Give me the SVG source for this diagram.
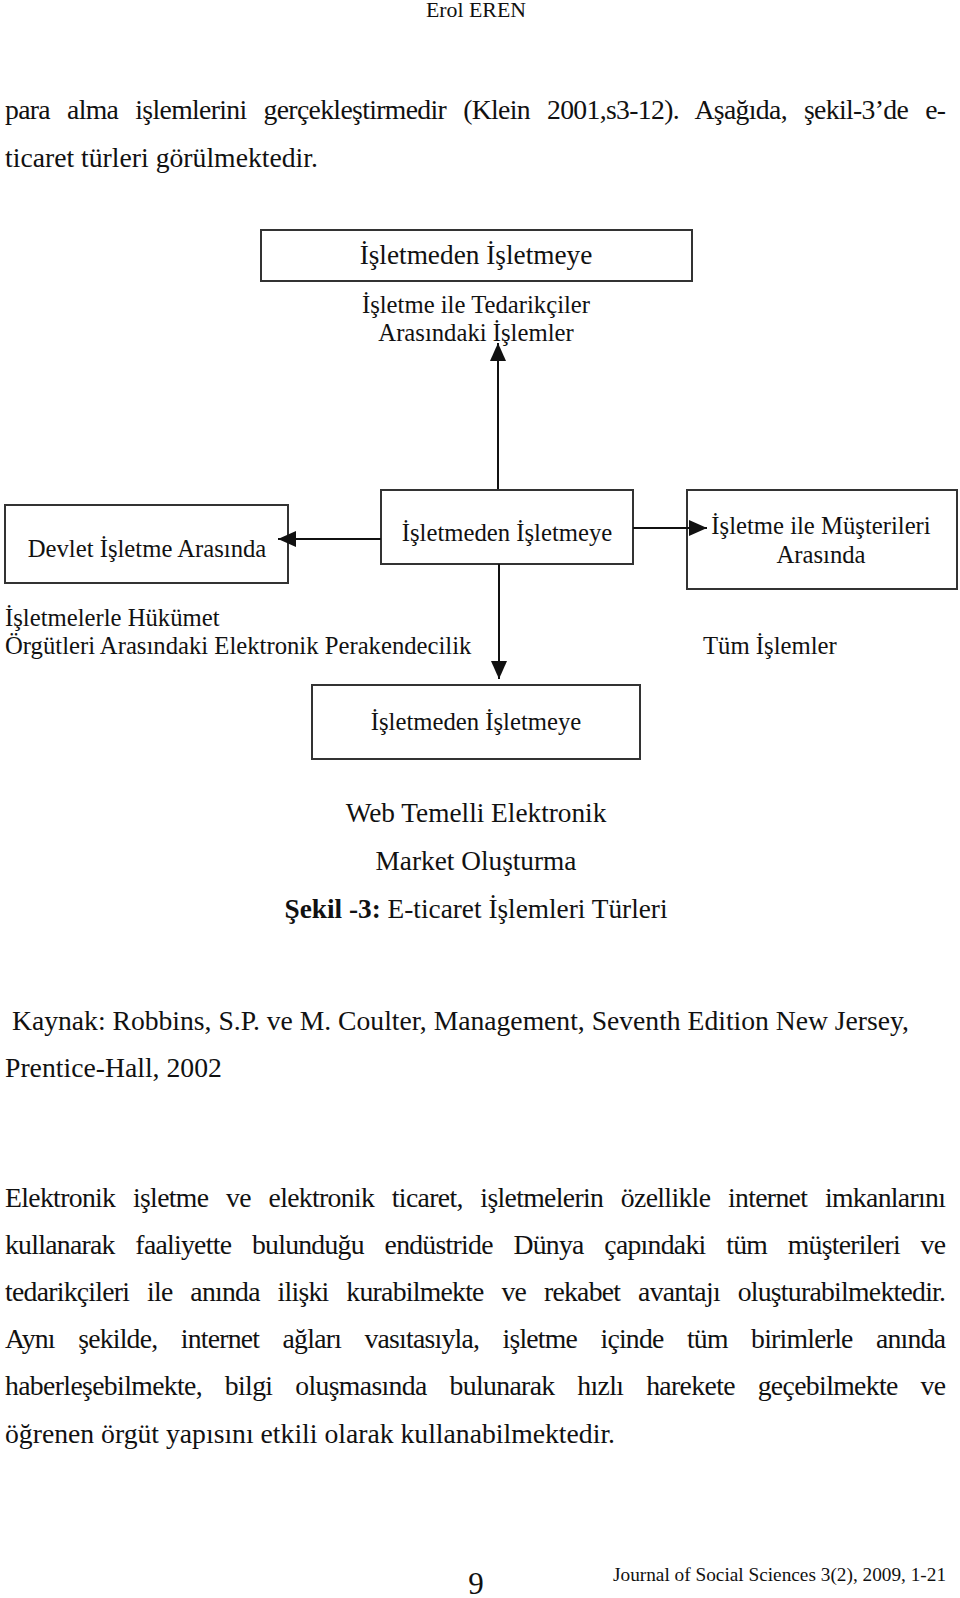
<svg xmlns="http://www.w3.org/2000/svg" width="960" height="1598" viewBox="0 0 960 1598">
<style>
  text { font-family: "Liberation Serif", "Times New Roman", serif; fill: #111; }
  .body { font-size: 27.7px; }
  .fig { font-size: 24.7px; }
  .figL { font-size: 27.3px; }
  .mid { text-anchor: middle; }
  .box { fill: #fff; stroke: #333; stroke-width: 2; }
  .conn { stroke: #111; stroke-width: 2; fill: none; marker-end: url(#arr); }
</style>
<defs>
  <marker id="arr" markerUnits="userSpaceOnUse" markerWidth="18" markerHeight="16" refX="18" refY="8" orient="auto">
    <path d="M0,0 L18,8 L0,16 Z" fill="#111"/>
  </marker>
</defs>
<rect width="960" height="1598" fill="#fff"/>

<text x="476" y="17" class="mid" font-size="21.8">Erol EREN</text>

<text x="5" y="119" class="body" word-spacing="10.8" textLength="941" lengthAdjust="spacing">para alma işlemlerini gerçekleştirmedir (Klein 2001,s3-12). Aşağıda, şekil-3’de e-</text>
<text x="5" y="167" class="body">ticaret türleri görülmektedir.</text>

<g id="node-top">
  <rect class="box" x="261" y="230" width="431" height="51"/>
  <text x="476" y="264" class="figL mid">İşletmeden İşletmeye</text>
  <text x="476" y="313" class="fig mid">İşletme ile Tedarikçiler</text>
  <text x="476" y="341" class="fig mid">Arasındaki İşlemler</text>
</g>

<g id="node-left">
  <rect class="box" x="5" y="505" width="283" height="78"/>
  <text x="147" y="557" class="fig mid">Devlet İşletme Arasında</text>
  <text x="5" y="626" class="fig">İşletmelerle Hükümet</text>
  <text x="5" y="654" class="fig">Örgütleri Arasındaki Elektronik Perakendecilik</text>
</g>

<g id="node-center">
  <rect class="box" x="381" y="490" width="252" height="74"/>
  <text x="507" y="541" class="fig mid">İşletmeden İşletmeye</text>
</g>

<g id="node-right">
  <rect class="box" x="687" y="490" width="270" height="99"/>
  <text x="821" y="534" class="fig mid">İşletme ile Müşterileri</text>
  <text x="821" y="563" class="fig mid">Arasında</text>
  <text x="703" y="654" class="fig">Tüm İşlemler</text>
</g>

<g id="node-bottom">
  <rect class="box" x="312" y="685" width="328" height="74"/>
  <text x="476" y="730" class="fig mid">İşletmeden İşletmeye</text>
  <text x="476" y="822" class="figL mid">Web Temelli Elektronik</text>
  <text x="476" y="870" class="figL mid">Market Oluşturma</text>
</g>

<g id="connectors">
  <line class="conn" x1="498" y1="489" x2="498" y2="343"/>
  <line class="conn" x1="381" y1="539" x2="278" y2="539"/>
  <line class="conn" x1="633" y1="528" x2="707" y2="528"/>
  <line class="conn" x1="499" y1="564" x2="499" y2="679"/>
</g>

<text x="476" y="918" class="mid" font-size="27.3"><tspan font-weight="bold">Şekil -3:</tspan> E-ticaret İşlemleri Türleri</text>

<text x="12" y="1030" class="body" textLength="897" lengthAdjust="spacingAndGlyphs">Kaynak: Robbins, S.P. ve M. Coulter, Management, Seventh Edition New Jersey,</text>
<text x="5" y="1077" class="body">Prentice-Hall, 2002</text>

<text x="5" y="1207" class="body" word-spacing="11.4" textLength="941" lengthAdjust="spacing">Elektronik işletme ve elektronik ticaret, işletmelerin özellikle internet imkanlarını</text>
<text x="5" y="1254" class="body" word-spacing="14.5" textLength="941" lengthAdjust="spacing">kullanarak faaliyette bulunduğu endüstride Dünya çapındaki tüm müşterileri ve</text>
<text x="5" y="1301" class="body" word-spacing="11.6" textLength="941" lengthAdjust="spacing">tedarikçileri ile anında ilişki kurabilmekte ve rekabet avantajı oluşturabilmektedir.</text>
<text x="5" y="1348" class="body" word-spacing="17.2" textLength="941" lengthAdjust="spacing">Aynı şekilde, internet ağları vasıtasıyla, işletme içinde tüm birimlerle anında</text>
<text x="5" y="1395" class="body" word-spacing="16.5" textLength="941" lengthAdjust="spacing">haberleşebilmekte, bilgi oluşmasında bulunarak hızlı harekete geçebilmekte ve</text>
<text x="5" y="1442.5" class="body">öğrenen örgüt yapısını etkili olarak kullanabilmektedir.</text>

<text x="476" y="1594" class="mid" font-size="31">9</text>
<text x="613" y="1581" font-size="19.3">Journal of Social Sciences 3(2), 2009, 1-21</text>
</svg>
